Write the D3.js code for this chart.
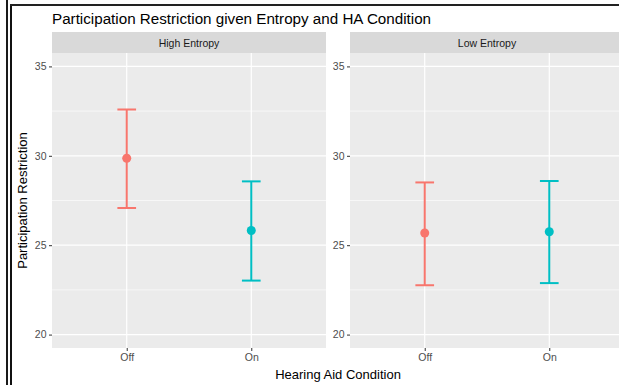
<!DOCTYPE html>
<html><head><meta charset="utf-8">
<script src="https://cdn.jsdelivr.net/npm/d3@7"></script>
<style>body{margin:0;background:#fff}svg{display:block}text{font-family:"Liberation Sans",Arial,sans-serif}</style>
</head><body>
<svg id="c" width="619" height="385"></svg>
<script>
const panels = ["High Entropy", "Low Entropy"];
const conditions = ["Off", "On"];
const means = [[29.86, 25.82], [25.68, 25.75]];
const lowers = [[27.08, 23.02], [22.76, 22.88]];
const uppers = [[32.59, 28.57], [28.51, 28.59]];
const yTicks = [20, 25, 30, 35];
const yMinor = [22.5, 27.5, 32.5];
const colors = ["#F8766D", "#00BFC4"];

(function () {
const svg = d3.select("#c");
// screenshot frame
svg.append("line").attr("x1",7).attr("x2",7).attr("y1",0).attr("y2",385).attr("stroke","#1a1a1a").attr("stroke-width",2);
svg.append("line").attr("x1",11).attr("x2",11).attr("y1",4).attr("y2",385).attr("stroke","#111").attr("stroke-width",2);
svg.append("line").attr("x1",10).attr("x2",619).attr("y1",5).attr("y2",5).attr("stroke","#222").attr("stroke-width",2);

svg.append("text").attr("x",52).attr("y",24).attr("font-size",15.2).attr("fill","#000")
  .text("Participation Restriction given Entropy and HA Condition");

const pTop = 53, pBottom = 348, stripTop = 32;
const panelW = 274, panelX = [52, 350];
const y = d3.scaleLinear().domain([19.25, 35.75]).range([pBottom, pTop]);
const ff = '"Liberation Sans",Arial,sans-serif';

panels.forEach((p, i) => {
  const x0 = panelX[i];
  const xs = d3.scaleLinear().domain([0.4, 2.6]).range([x0, x0 + panelW]);
  const xp = c => xs(conditions.indexOf(c) + 1);
  const g = svg.append("g");
  g.append("rect").attr("x", x0).attr("y", stripTop).attr("width", panelW).attr("height", pTop - stripTop).attr("fill", "#D9D9D9");
  g.append("text").attr("x", x0 + panelW / 2).attr("y", 46.5).attr("text-anchor", "middle").attr("font-size", 10.5).attr("fill", "#1A1A1A").text(p);
  g.append("rect").attr("x", x0).attr("y", pTop).attr("width", panelW).attr("height", pBottom - pTop).attr("fill", "#EBEBEB");
  yMinor.forEach(v => g.append("line").attr("x1", x0).attr("x2", x0 + panelW).attr("y1", y(v)).attr("y2", y(v)).attr("stroke", "#fff").attr("stroke-width", 0.6));
  yTicks.forEach(v => g.append("line").attr("x1", x0).attr("x2", x0 + panelW).attr("y1", y(v)).attr("y2", y(v)).attr("stroke", "#fff").attr("stroke-width", 1.2));
  conditions.forEach(c => g.append("line").attr("x1", xp(c)).attr("x2", xp(c)).attr("y1", pTop).attr("y2", pBottom).attr("stroke", "#fff").attr("stroke-width", 1.2));
  const ya = svg.append("g").attr("transform", `translate(${x0},0)`)
    .call(d3.axisLeft(y).tickValues(yTicks).tickSize(3).tickPadding(2.5));
  ya.select(".domain").remove();
  ya.selectAll("line").attr("stroke", "#333").attr("stroke-width", 1);
  ya.selectAll("text").attr("font-size", 10.5).attr("fill", "#4D4D4D").attr("font-family", ff);
  const xa = svg.append("g").attr("transform", `translate(0,${pBottom})`)
    .call(d3.axisBottom(xs).tickValues([1, 2]).tickFormat(d => conditions[d - 1]).tickSize(3).tickPadding(3));
  xa.select(".domain").remove();
  xa.selectAll("line").attr("stroke", "#333").attr("stroke-width", 1);
  xa.selectAll("text").attr("font-size", 10.5).attr("fill", "#4D4D4D").attr("font-family", ff);
  const half = (xs(1.075) - xs(1));
  conditions.forEach((c, j) => {
    const cx = xp(c), col = colors[j];
    g.append("line").attr("x1", cx).attr("x2", cx).attr("y1", y(lowers[i][j])).attr("y2", y(uppers[i][j])).attr("stroke", col).attr("stroke-width", 2);
    [lowers[i][j], uppers[i][j]].forEach(v => g.append("line").attr("x1", cx - half).attr("x2", cx + half).attr("y1", y(v)).attr("y2", y(v)).attr("stroke", col).attr("stroke-width", 2));
    g.append("circle").attr("cx", cx).attr("cy", y(means[i][j])).attr("r", 4.5).attr("fill", col);
  });
});

svg.append("text").attr("x", (52 + 624) / 2).attr("y", 378.5).attr("text-anchor", "middle").attr("font-size", 13).attr("fill", "#000").text("Hearing Aid Condition");
svg.append("text").attr("transform", `translate(27,${(pTop + pBottom) / 2}) rotate(-90)`).attr("text-anchor", "middle").attr("font-size", 13).attr("fill", "#000").text("Participation Restriction");
})();
</script>
</body></html>
